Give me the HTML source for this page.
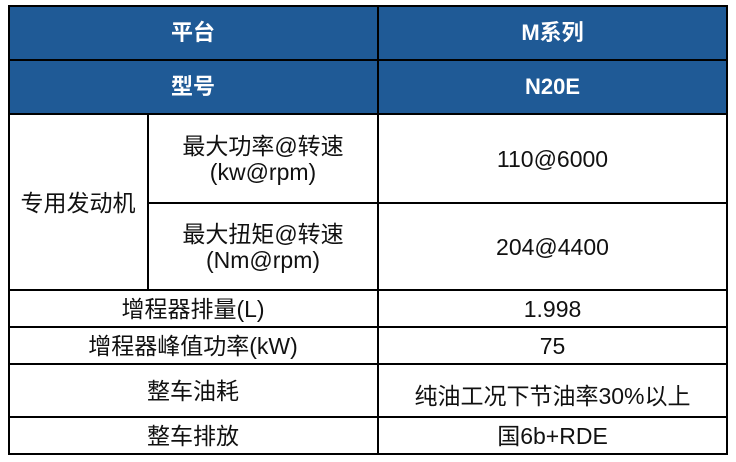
<!DOCTYPE html>
<html><head><meta charset="utf-8"><style>
body{margin:0;width:736px;height:462px;background:#fff;position:relative;overflow:hidden;font-family:"Liberation Sans","Noto Sans CJK SC",sans-serif;}
.b{position:absolute;background:#1f5a96;}
.h{position:absolute;background:#000;height:2px;}
.v{position:absolute;background:#000;width:2px;}
.t{position:absolute;display:flex;align-items:center;justify-content:center;text-align:center;font-size:23px;color:#111;line-height:26px;}
.w{color:#fff;font-weight:bold;font-size:22px;}
</style></head><body>
<div class="b" style="left:9px;top:6px;width:718px;height:107px"></div>
<div class="h" style="left:8px;top:5px;width:720px"></div>
<div class="h" style="left:8px;top:59px;width:720px"></div>
<div class="h" style="left:8px;top:113px;width:720px"></div>
<div class="h" style="left:147px;top:202px;width:581px"></div>
<div class="h" style="left:8px;top:289px;width:720px"></div>
<div class="h" style="left:8px;top:326px;width:720px"></div>
<div class="h" style="left:8px;top:363px;width:720px"></div>
<div class="h" style="left:8px;top:416px;width:720px"></div>
<div class="h" style="left:8px;top:453px;width:720px"></div>
<div class="v" style="left:8px;top:5px;height:450px"></div>
<div class="v" style="left:726px;top:5px;height:450px"></div>
<div class="v" style="left:377px;top:5px;height:450px"></div>
<div class="v" style="left:147px;top:113px;height:178px"></div>
<div class="t w" style="left:9px;top:6px;width:368px;height:54px">平台</div>
<div class="t w" style="left:379px;top:6px;width:347px;height:54px">M系列</div>
<div class="t w" style="left:9px;top:61px;width:368px;height:52px">型号</div>
<div class="t w" style="left:379px;top:61px;width:347px;height:52px">N20E</div>
<div class="t" style="left:9px;top:115px;width:138px;height:175px">专用发动机</div>
<div class="t" style="left:149px;top:115px;width:228px;height:88px">最大功率@转速<br>(kw@rpm)</div>
<div class="t" style="left:379px;top:115px;width:347px;height:88px">110@6000</div>
<div class="t" style="left:149px;top:204px;width:228px;height:86px">最大扭矩@转速<br>(Nm@rpm)</div>
<div class="t" style="left:379px;top:204px;width:347px;height:86px">204@4400</div>
<div class="t" style="left:9px;top:291px;width:368px;height:35px">增程器排量(L)</div>
<div class="t" style="left:379px;top:291px;width:347px;height:35px">1.998</div>
<div class="t" style="left:9px;top:328px;width:368px;height:35px">增程器峰值功率(kW)</div>
<div class="t" style="left:379px;top:328px;width:347px;height:35px">75</div>
<div class="t" style="left:9px;top:365px;width:368px;height:51px">整车油耗</div>
<div class="t" style="left:379px;top:365px;width:347px;height:51px;padding-top:10px;box-sizing:border-box">纯油工况下节油率30%以上</div>
<div class="t" style="left:9px;top:418px;width:368px;height:35px">整车排放</div>
<div class="t" style="left:379px;top:418px;width:347px;height:35px">国6b+RDE</div>
</body></html>
